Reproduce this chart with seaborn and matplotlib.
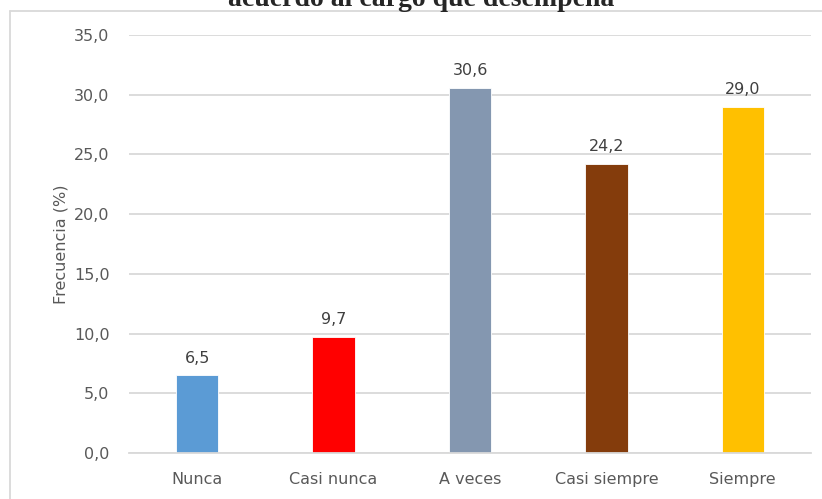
import matplotlib
matplotlib.use("Agg")
import matplotlib.pyplot as plt
import seaborn as sns
import pandas as pd
from matplotlib.lines import Line2D

# Data
categories = ['Nunca', 'Casi nunca', 'A veces', 'Casi siempre', 'Siempre']
values = [6.5, 9.7, 30.6, 24.2, 29.0]
colors = ['#5B9BD5', '#FF0000', '#8497B0', '#843C0C', '#FFC000']
yticks = [0, 5, 10, 15, 20, 25, 30, 35]

df = pd.DataFrame({'cat': categories, 'val': values})

sns.set_style('white')
plt.rcParams['font.family'] = ['DejaVu Sans']

fig = plt.figure(figsize=(8.22, 4.99), dpi=100)
ax = fig.add_axes([129 / 822, 1 - 453 / 499, (811 - 129) / 822, (453 - 35) / 499])

sns.barplot(data=df, x='cat', y='val', hue='cat', palette=colors, legend=False,
            width=0.31, ax=ax, saturation=1, edgecolor='white', linewidth=0.6)

ax.set_ylim(0, 35)
ax.set_xlim(-0.5, 4.5)
ax.set_yticks(yticks)
ax.set_yticklabels([f'{t:.1f}'.replace('.', ',') for t in yticks])
ax.yaxis.grid(True, color='#D9D9D9', linewidth=1.3)
ax.set_axisbelow(True)
for s in ['top', 'right', 'left']:
    ax.spines[s].set_visible(False)
ax.spines['bottom'].set_color('#D9D9D9')
ax.spines['bottom'].set_linewidth(1.3)
ax.tick_params(axis='both', length=0, labelsize=11.5, colors='#595959', pad=14)
ax.tick_params(axis='x', pad=14)
ax.set_xlabel('')
ax.set_ylabel('Frecuencia (%)', fontsize=11.5, color='#595959', labelpad=4)

for cont in ax.containers:
    ax.bar_label(cont, labels=[f'{v:.1f}'.replace('.', ',') for v in cont.datavalues],
                 padding=7, fontsize=11.5, color='#404040')

# chart frame (only left and top edges show in the source)
fx, fy = 9.5 / 822, 1 - 10.5 / 499
fig.add_artist(Line2D([fx, fx], [0, fy], transform=fig.transFigure, color='#D9D9D9', lw=1.3))
fig.add_artist(Line2D([fx, 1], [fy, fy], transform=fig.transFigure, color='#D9D9D9', lw=1.3))

# clipped title from the source figure
fig.text(0.512, 1 - 6 / 499, 'acuerdo al cargo que desempeña', ha='center', va='baseline',
         fontfamily='Liberation Serif', fontweight='bold', fontsize=20)

fig.savefig('out.png', dpi=100)
